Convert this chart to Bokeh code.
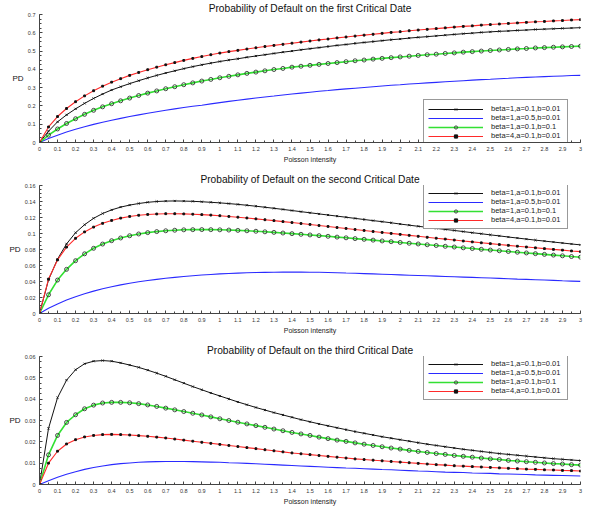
from bokeh.plotting import figure
from bokeh.layouts import column
from bokeh.models import (FixedTicker, Legend, LegendItem, Range1d, LinearAxis,
                          CustomJSTickFormatter)
from bokeh.embed import file_html
from bokeh.resources import INLINE

# Poisson intensity grid (step 0.05)
intensity = [i / 20 for i in range(61)]

# ---- first critical date ----
pd1_b1_a01_b001 = [
    0, .062, .113, .151, .184, .214, .241, .265, .287, .305,
    .322, .338, .353, .367, .380, .392, .404, .415, .425, .434,
    .443, .451, .458, .466, .473, .480, .487, .494, .500, .507,
    .513, .519, .525, .531, .536, .542, .547, .552, .557, .562,
    .566, .571, .575, .579, .583, .587, .591, .595, .598, .602,
    .605, .608, .610, .613, .615, .618, .620, .622, .624, .626,
    .628]
pd1_b1_a05_b001 = [
    0, .022, .040, .057, .072, .086, .099, .111, .122, .132,
    .142, .151, .160, .168, .176, .184, .191, .198, .204, .211,
    .218, .225, .231, .237, .243, .249, .254, .260, .265, .270,
    .275, .280, .284, .289, .293, .297, .301, .305, .309, .313,
    .316, .320, .323, .326, .329, .332, .335, .338, .341, .344,
    .346, .349, .351, .354, .356, .358, .360, .362, .364, .366,
    .367]
pd1_b1_a01_b01 = [
    0, .040, .074, .104, .130, .154, .176, .195, .212, .228,
    .243, .257, .270, .282, .294, .305, .316, .326, .336, .345,
    .354, .362, .370, .378, .385, .392, .399, .405, .412, .417,
    .422, .427, .432, .437, .442, .447, .451, .456, .460, .464,
    .468, .472, .476, .480, .483, .487, .490, .494, .497, .500,
    .503, .506, .509, .512, .514, .517, .519, .521, .523, .525,
    .527]
pd1_b4_a01_b001 = [
    0, .085, .142, .186, .223, .255, .283, .308, .330, .349,
    .367, .383, .398, .412, .425, .437, .449, .460, .470, .480,
    .489, .497, .504, .511, .518, .525, .531, .537, .543, .549,
    .555, .561, .566, .572, .577, .582, .587, .592, .597, .602,
    .606, .611, .615, .619, .623, .627, .631, .635, .638, .642,
    .645, .648, .651, .654, .657, .660, .662, .665, .667, .670,
    .672]

# ---- second critical date ----
pd2_b1_a01_b001 = [
    0, .042, .068, .087, .101, .111, .119, .125, .1295, .133,
    .1355, .1375, .139, .140, .1405, .1407, .1405, .1402, .1397, .139,
    .1383, .1374, .1364, .1353, .1341, .1328, .1315, .1301, .1287, .1273,
    .1259, .1245, .1231, .1217, .1203, .1189, .1175, .1161, .1148, .1134,
    .1118, .1104, .1090, .1077, .1064, .1051, .1038, .1024, .1010, .0997,
    .0983, .0970, .0956, .0943, .0930, .0917, .0905, .0893, .0881, .0869,
    .0858]
pd2_b1_a05_b001 = [
    0, .0065, .0120, .0168, .0210, .0247, .0280, .0309, .0335, .0358,
    .0378, .0396, .0412, .0427, .0440, .0452, .0463, .0472, .0481, .0488,
    .0495, .0500, .0505, .0509, .0512, .0514, .0516, .0517, .0517, .0517,
    .0516, .0515, .0513, .0510, .0506, .0503, .0499, .0495, .0491, .0487,
    .0483, .0479, .0475, .0471, .0467, .0463, .0459, .0455, .0451, .0447,
    .0443, .0439, .0435, .0430, .0426, .0422, .0418, .0414, .0409, .0405,
    .0401]
pd2_b1_a01_b01 = [
    0, .0234, .0418, .0552, .0660, .0746, .0815, .0868, .0910, .0944,
    .0972, .0994, .1011, .1024, .1034, .1041, .1046, .1048, .1049, .1048,
    .1046, .1043, .1039, .1034, .1028, .1021, .1014, .1006, .0998, .0990,
    .0982, .0973, .0965, .0955, .0946, .0936, .0927, .0917, .0907, .0898,
    .0888, .0878, .0869, .0859, .0850, .0840, .0831, .0821, .0812, .0802,
    .0793, .0784, .0775, .0766, .0757, .0748, .0739, .0730, .0721, .0712,
    .0704]
pd2_b4_a01_b001 = [
    0, .043, .067, .083, .094, .102, .108, .1127, .1163, .1192,
    .1213, .1228, .1238, .1244, .1247, .1247, .1245, .1241, .1236, .1230,
    .1222, .1213, .1204, .1194, .1183, .1172, .1161, .1149, .1137, .1125,
    .1113, .1100, .1088, .1075, .1063, .1050, .1038, .1025, .1013, .1001,
    .0989, .0977, .0965, .0953, .0941, .0930, .0918, .0906, .0895, .0884,
    .0873, .0862, .0852, .0841, .0831, .0821, .0811, .0801, .0792, .0782,
    .0773]

# ---- third critical date ----
pd3_b1_a01_b001 = [
    0, .0263, .0407, .0489, .0538, .0566, .0578, .0581, .0578, .0570,
    .0560, .0549, .0536, .0522, .0507, .0491, .0475, .0459, .0444, .0429,
    .0415, .0401, .0387, .0374, .0361, .0349, .0337, .0326, .0315, .0304,
    .0294, .0284, .0275, .0266, .0257, .0248, .0240, .0232, .0224, .0217,
    .0210, .0203, .0196, .0189, .0183, .0177, .0171, .0165, .0160, .0155,
    .0150, .0145, .0141, .0137, .0133, .0129, .0125, .0121, .0118, .0115,
    .0112]
pd3_b1_a05_b001 = [
    0, .0018, .0034, .0048, .0060, .0071, .0080, .0087, .0093, .0098,
    .0101, .0104, .0106, .0107, .0108, .0108, .0108, .0107, .0106, .0105,
    .0104, .0102, .0101, .0099, .0097, .0095, .0093, .0091, .0089, .0087,
    .0085, .0083, .0081, .0079, .0077, .0076, .0074, .0072, .0070, .0069,
    .0067, .0065, .0063, .0062, .0060, .0058, .0057, .0056, .0054, .0053,
    .0052, .0050, .0049, .0048, .0047, .0045, .0044, .0043, .0042, .0041,
    .0040]
pd3_b1_a01_b01 = [
    0, .0139, .0230, .0291, .0327, .0355, .0372, .0382, .0385, .0385,
    .0383, .0379, .0373, .0366, .0358, .0350, .0342, .0334, .0326, .0317,
    .0308, .0300, .0292, .0284, .0276, .0268, .0260, .0252, .0244, .0237,
    .0230, .0222, .0215, .0208, .0202, .0195, .0189, .0183, .0177, .0171,
    .0166, .0160, .0155, .0150, .0145, .0141, .0136, .0132, .0128, .0124,
    .0120, .0117, .0113, .0110, .0107, .0104, .0101, .0098, .0096, .0093,
    .0091]
pd3_b4_a01_b001 = [
    0, .0100, .0156, .0190, .0210, .0223, .0230, .0234, .0235, .0234,
    .0232, .0229, .0226, .0222, .0218, .0213, .0208, .0203, .0198, .0193,
    .0188, .0183, .0178, .0173, .0168, .0163, .0158, .0153, .0148, .0144,
    .0140, .0136, .0132, .0128, .0124, .0120, .0117, .0114, .0111, .0108,
    .0105, .0102, .0099, .0096, .0093, .0091, .0088, .0086, .0084, .0082,
    .0080, .0078, .0076, .0074, .0072, .0071, .0069, .0068, .0066, .0065,
    .0063]

series_labels = ["beta=1,a=0.1,b=0.01", "beta=1,a=0.5,b=0.01",
                 "beta=1,a=0.1,b=0.1", "beta=4,a=0.1,b=0.01"]
x_ticks = [i / 10 for i in range(31)]
x_minor = [i / 20 for i in range(61)]

FONT = "Liberation Sans"
fmt = CustomJSTickFormatter(code="return String(Math.round(tick * 1000) / 1000);")


def text_axis(tick, text, size, standoff):
    """A bare axis carrying a single label (used for the horizontal PD title)."""
    return LinearAxis(ticker=FixedTicker(ticks=[tick], minor_ticks=[]),
                      major_label_overrides={tick: text},
                      axis_line_color=None, major_tick_line_color=None,
                      minor_tick_line_color=None,
                      major_tick_in=0, major_tick_out=0,
                      minor_tick_in=0, minor_tick_out=0,
                      major_label_text_font=FONT,
                      major_label_text_font_size=size,
                      major_label_text_color="#111111",
                      major_label_standoff=standoff)


def make_panel(title, data, y_max, y_step, legend_loc, height, bottom):
    p = figure(width=590, height=height, output_backend="svg",
               toolbar_location=None, x_range=Range1d(0, 3),
               y_range=Range1d(0, y_max),
               min_border_left=39, min_border_right=10,
               min_border_top=14, min_border_bottom=bottom)
    p.outline_line_color = None
    p.xgrid.visible = False
    p.ygrid.visible = False
    p.background_fill_color = "white"

    p.title.text = title
    p.title.align = "center"
    p.title.text_font = FONT
    p.title.text_font_size = "10.2px"
    p.title.text_font_style = "normal"
    p.title.text_color = "#111111"
    p.title.standoff = 1

    n_y = int(round(y_max / y_step))
    y_ticks = [round(i * y_step, 6) for i in range(n_y + 1)]
    y_minor = [round(i * y_step / 4, 7) for i in range(4 * n_y + 1)]
    xax = p.xaxis[0]
    yax = p.yaxis[0]
    xax.ticker = FixedTicker(ticks=x_ticks, minor_ticks=x_minor)
    yax.ticker = FixedTicker(ticks=y_ticks, minor_ticks=y_minor)
    for ax in (xax, yax):
        ax.formatter = fmt
        ax.axis_line_color = "#444444"
        ax.major_tick_line_color = "#444444"
        ax.minor_tick_line_color = "#444444"
        ax.major_tick_in = 3
        ax.major_tick_out = 0
        ax.minor_tick_in = 2
        ax.minor_tick_out = 0
        ax.major_label_text_font = FONT
        ax.major_label_text_font_size = "5.5px"
        ax.major_label_text_color = "#333333"
        ax.major_label_standoff = 4
    xax.axis_label = "Poisson intensity"
    xax.axis_label_text_font = FONT
    xax.axis_label_text_font_size = "7px"
    xax.axis_label_text_font_style = "normal"
    xax.axis_label_text_color = "#222222"
    xax.axis_label_standoff = 2

    # horizontal "PD" beside the value axis
    p.add_layout(text_axis(round(y_max / 2, 6), "PD", "8px", 1), "left")

    b1, b2, b3, b4 = data
    r_black = p.line(intensity, b1, line_color="#111111", line_width=1)
    s_black = p.scatter(intensity, b1, marker="x", size=3,
                        line_color="#111111", line_width=0.9)
    r_blue = p.line(intensity, b2, line_color="#2a2aff", line_width=1.1)
    r_green = p.line(intensity, b3, line_color="#33e033", line_width=1.6)
    s_green = p.scatter(intensity, b3, marker="circle", size=4,
                        line_color="#222222", fill_alpha=0, line_width=0.8)
    r_red = p.line(intensity, b4, line_color="#ff2a2a", line_width=1.1)
    s_red = p.scatter(intensity, b4, marker="square", size=1.8,
                      line_color="#111111", fill_color="#111111")

    items = [LegendItem(label=series_labels[0], renderers=[r_black, s_black]),
             LegendItem(label=series_labels[1], renderers=[r_blue]),
             LegendItem(label=series_labels[2], renderers=[r_green, s_green]),
             LegendItem(label=series_labels[3], renderers=[r_red, s_red])]
    legend = Legend(items=items, location=legend_loc,
                    label_text_font=FONT, label_text_font_size="7.5px",
                    label_text_color="#222222",
                    label_height=8, glyph_height=8, glyph_width=55,
                    label_width=72, label_standoff=8, spacing=0,
                    padding=4, margin=0,
                    border_line_color="#333333", border_line_width=1,
                    background_fill_color="white", background_fill_alpha=1)
    p.add_layout(legend)
    return p


p1 = make_panel("Probability of Default on the first Critical Date",
                (pd1_b1_a01_b001, pd1_b1_a05_b001, pd1_b1_a01_b01, pd1_b4_a01_b001),
                0.7, 0.1, (384, -3), 171, 29)
p2 = make_panel("Probability of Default on the second Critical Date",
                (pd2_b1_a01_b001, pd2_b1_a05_b001, pd2_b1_a01_b01, pd2_b4_a01_b001),
                0.16, 0.02, (384, 84), 171, 29)
p3 = make_panel("Probability of Default on the third Critical Date",
                (pd3_b1_a01_b001, pd3_b1_a05_b001, pd3_b1_a01_b01, pd3_b4_a01_b001),
                0.06, 0.01, (384, 84), 177, 35)

layout = column(p1, p2, p3, spacing=0)
open("out.html", "w").write(file_html(layout, INLINE))
